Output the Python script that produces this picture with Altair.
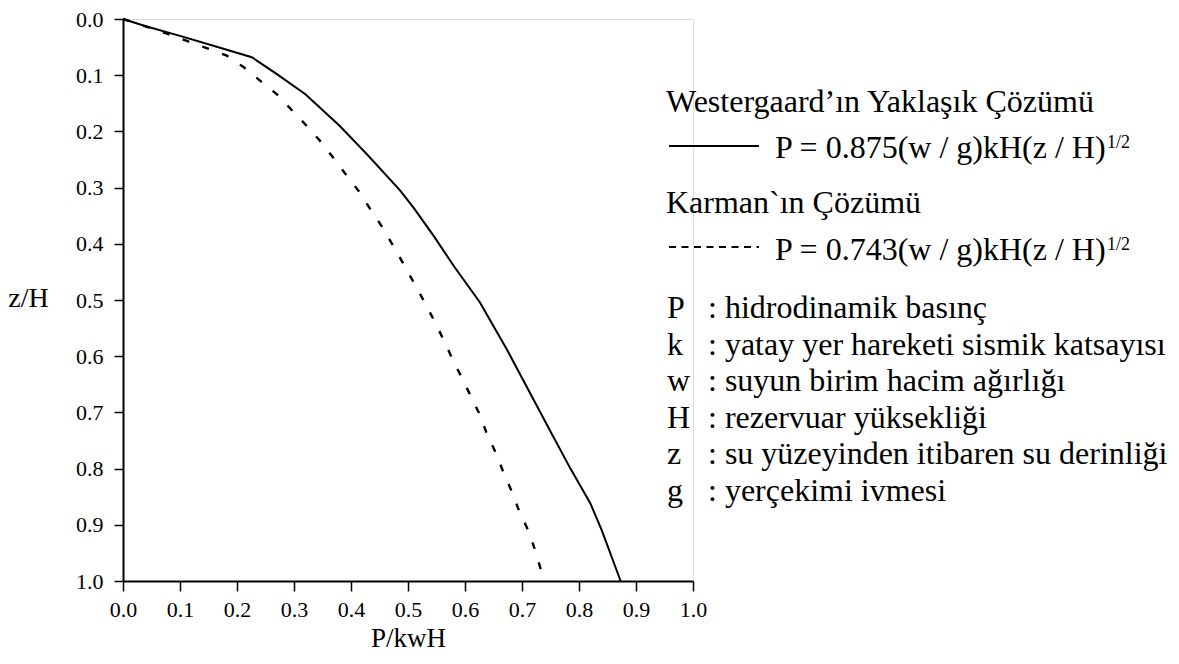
import altair as alt
import pandas as pd

FONT = "Liberation Serif"

# Westergaard approximate solution (solid curve): P/kwH vs z/H
west_p = [0.0, 0.04, 0.10, 0.16, 0.226, 0.27, 0.32, 0.38, 0.43, 0.486, 0.51, 0.545,
          0.58, 0.626, 0.674, 0.75, 0.785, 0.82, 0.84, 0.873]
west_z = [0.0, 0.013, 0.030, 0.048, 0.068, 0.098, 0.134, 0.19, 0.243, 0.305, 0.336, 0.386,
          0.439, 0.504, 0.589, 0.734, 0.80, 0.862, 0.91, 1.0]

# Karman solution (dashed curve)
karman_p = [0.0, 0.045, 0.077, 0.112, 0.147, 0.182, 0.212, 0.242, 0.270, 0.296, 0.322, 0.345,
            0.369, 0.392, 0.414, 0.433, 0.454, 0.473, 0.491, 0.509, 0.527, 0.544, 0.560, 0.578,
            0.600, 0.626, 0.638, 0.654, 0.668, 0.683, 0.696, 0.711, 0.723, 0.739]
karman_z = [0.0, 0.015, 0.026, 0.039, 0.052, 0.065, 0.086, 0.111, 0.134, 0.162, 0.190, 0.216,
            0.247, 0.278, 0.307, 0.337, 0.369, 0.402, 0.434, 0.467, 0.500, 0.533, 0.566, 0.605,
            0.650, 0.704, 0.737, 0.772, 0.808, 0.843, 0.878, 0.910, 0.945, 1.0]

tick_values = [0.0, 0.1, 0.2, 0.3, 0.4, 0.5, 0.6, 0.7, 0.8, 0.9, 1.0]

header_west = "Westergaard’ın Yaklaşık Çözümü"
formula_west = "P = 0.875(w / g)kH(z / H)"
header_karman = "Karman`ın Çözümü"
formula_karman = "P = 0.743(w / g)kH(z / H)"
exponent = "1/2"
symbols = ["P", "k", "w", "H", "z", "g"]
meanings = [": hidrodinamik basınç",
            ": yatay yer hareketi sismik katsayısı",
            ": suyun birim hacim ağırlığı",
            ": rezervuar yüksekliği",
            ": su yüzeyinden itibaren su derinliği",
            ": yerçekimi ivmesi"]

west_df = pd.DataFrame({"p": west_p, "z": west_z, "i": range(len(west_p))})
karman_df = pd.DataFrame({"p": karman_p, "z": karman_z, "i": range(len(karman_p))})

x_scale = alt.Scale(domain=[0, 1], nice=False, zero=False)
y_scale = alt.Scale(domain=[0, 1], nice=False, zero=False, reverse=True)

x_axis = alt.Axis(values=tick_values, format=".1f", title="P/kwH", grid=False,
                  labelFontSize=22, labelFont=FONT, labelColor="black", labelFlush=False,
                  labelOverlap=False, labelPadding=8,
                  tickSize=10, tickWidth=1.5, tickColor="black",
                  domainWidth=2, domainColor="black",
                  titleFont=FONT, titleFontSize=27, titleFontWeight="normal", titleColor="black",
                  titleX=285, titleY=65, titleAlign="center", titleBaseline="alphabetic")
y_axis = alt.Axis(values=tick_values, format=".1f", title="z/H", grid=False,
                  labelFontSize=22, labelFont=FONT, labelColor="black", labelFlush=False,
                  labelOverlap=False, labelPadding=11,
                  tickSize=9, tickWidth=1.5, tickColor="black",
                  domainWidth=2, domainColor="black",
                  titleFont=FONT, titleFontSize=28, titleFontWeight="normal", titleColor="black",
                  titleAngle=0, titleX=-95, titleY=279, titleAlign="center", titleBaseline="middle")

west_line = alt.Chart(west_df).mark_line(color="black", strokeWidth=2).encode(
    x=alt.X("p:Q", scale=x_scale, axis=x_axis),
    y=alt.Y("z:Q", scale=y_scale, axis=y_axis),
    order="i:Q",
)
karman_line = alt.Chart(karman_df).mark_line(color="black", strokeWidth=2.4, strokeDash=[7, 14]).encode(
    x=alt.X("p:Q", scale=x_scale),
    y=alt.Y("z:Q", scale=y_scale),
    order="i:Q",
)

one = pd.DataFrame({"k": [0]})


def txt(s, x, y, size, **kw):
    return alt.Chart(one).mark_text(text=s, align="left", baseline="alphabetic", font=FONT,
                                    fontSize=size, color="black", **kw).encode(
        x=alt.value(x), y=alt.value(y))


def sample(y, **kw):
    return alt.Chart(one).mark_rule(color="black", **kw).encode(
        x=alt.value(546), x2=alt.value(636), y=alt.value(y))


# annotation layout is relative to the plot origin (top-left of the axes)
layers = [
    west_line,
    karman_line,
    txt(header_west, 543, 93, 32),
    sample(127, strokeWidth=2),
    txt(formula_west, 652, 139, 32),
    txt(exponent, 984, 129, 18),
    txt(header_karman, 543, 194, 32),
    sample(228, strokeWidth=1.8, strokeDash=[7, 5.5]),
    txt(formula_karman, 652, 241, 32),
    txt(exponent, 984, 231, 18),
    txt(symbols, 544, 299, 32, lineHeight=36.6),
    txt(meanings, 585, 299, 32, lineHeight=36.6),
]

chart = alt.layer(*layers).properties(
    width=570, height=562,
    autosize=alt.AutoSizeParams(type="none"),
    padding={"left": 115, "top": 11, "right": 476, "bottom": 72},
    background="white",
).configure_view(stroke=None).configure(font=FONT)

chart.save("out.html", embed_options={"renderer": "svg", "actions": False})
